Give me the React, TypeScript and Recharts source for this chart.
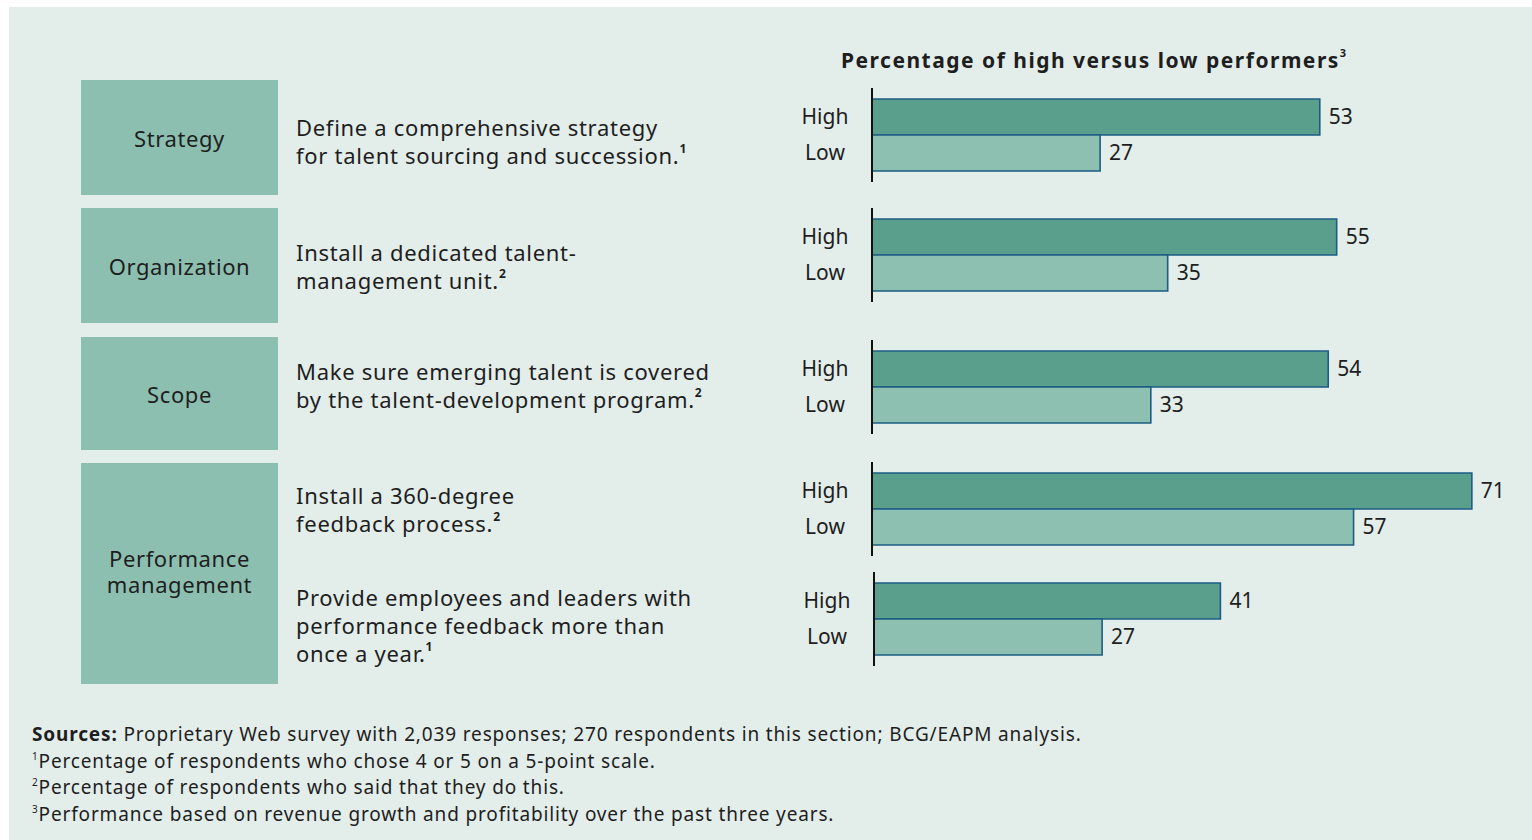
import React from "react";
import { Bar, BarChart, Cell, LabelList, XAxis, YAxis } from "recharts";

const categories = ["Strategy", "Organization", "Scope", "Performance management"];
const practices = [
  ["Define a comprehensive strategy", "for talent sourcing and succession."],
  ["Install a dedicated talent-", "management unit."],
  ["Make sure emerging talent is covered", "by the talent-development program."],
  ["Install a 360-degree", "feedback process."],
  ["Provide employees and leaders with", "performance feedback more than", "once a year."]
];
const practiceNotes = ["1", "2", "2", "2", "1"];
const seriesLabels = ["High", "Low"];
const highValues = [53, 55, 54, 71, 41];
const lowValues = [27, 35, 33, 57, 27];
const footnotes = [
  "Percentage of respondents who chose 4 or 5 on a 5-point scale.",
  "Percentage of respondents who said that they do this.",
  "Performance based on revenue growth and profitability over the past three years."
];

const BG = "#e3edea";
const BOX = "#8dbfb1";
const DARK = "#5a9f8c";
const LIGHT = "#8ec0b2";
const EDGE = "#1d5c84";
const INK = "#1e1e1e";
const FONT = "'Noto Sans', 'Open Sans', sans-serif";

// layout of the blocks (page coordinates)
const boxes = [
  { top: 80, height: 115 },
  { top: 208, height: 115 },
  { top: 337, height: 113 },
  { top: 463, height: 221 }
];
const textTops = [113, 238, 357, 481, 583];
const chartTops = [88, 208, 340, 462, 572];
const chartLefts = [780, 780, 780, 780, 782];

function SideTick(props: any) {
  const { x, y, payload } = props;
  return (
    <text x={x - 27} y={y} dy="0.35em" textAnchor="middle" fontSize={21} fill={INK} fontFamily={FONT}>
      {payload.value}
    </text>
  );
}

function PairChart({ index }: { index: number }) {
  const data = seriesLabels.map((name, i) => ({
    name,
    value: i === 0 ? highValues[index] : lowValues[index]
  }));
  return (
    <div style={{ position: "absolute", left: chartLefts[index], top: chartTops[index] }}>
      <BarChart
        layout="vertical"
        width={751}
        height={94}
        data={data}
        margin={{ top: 0, right: 0, bottom: 0, left: 0 }}
        barCategoryGap={0}
        style={{ overflow: "visible" }}
      >
        <XAxis type="number" domain={[0, 78]} hide />
        <YAxis
          type="category"
          dataKey="name"
          width={92}
          axisLine={{ stroke: "#111", strokeWidth: 2 }}
          tickLine={false}
          tickSize={0}
          tickMargin={20}
          padding={{ top: 11, bottom: 11 }}
          tick={<SideTick />}
        />
        <Bar dataKey="value" isAnimationActive={false} stroke={EDGE} strokeWidth={1.6}>
          {data.map((d, i) => (
            <Cell key={d.name} fill={i === 0 ? DARK : LIGHT} />
          ))}
          <LabelList dataKey="value" position="right" offset={9} style={{ fontSize: 21, fill: INK, fontFamily: FONT }} />
        </Bar>
      </BarChart>
    </div>
  );
}

export default function App() {
  return (
    <div style={{ position: "absolute", left: 0, top: 0, width: 1532, height: 840, background: "#fff", fontFamily: FONT, color: INK }}>
      <div style={{ position: "absolute", left: 9, top: 7, width: 1523, height: 833, background: BG }} />

      {categories.map((c, i) => (
        <div
          key={c}
          style={{
            position: "absolute",
            left: 81,
            top: boxes[i].top,
            width: 197,
            height: boxes[i].height,
            background: BOX,
            display: "flex",
            alignItems: "center",
            justifyContent: "center",
            textAlign: "center",
            fontSize: 22,
            letterSpacing: 0.6,
            lineHeight: "26px",
            padding: i === 3 ? "0 20px 6px" : "0 20px",
            boxSizing: "border-box"
          }}
        >
          {c}
        </div>
      ))}

      {practices.map((lines, i) => (
        <div
          key={i}
          style={{ position: "absolute", left: 296, top: textTops[i], fontSize: 22, letterSpacing: 0.7, lineHeight: "28px", whiteSpace: "nowrap" }}
        >
          {lines.map((l, j) => (
            <div key={j}>
              {l}
              {j === lines.length - 1 && (
                <sup style={{ fontSize: 12, fontWeight: 700, verticalAlign: "top", lineHeight: "16px" }}>{practiceNotes[i]}</sup>
              )}
            </div>
          ))}
        </div>
      ))}

      <div style={{ position: "absolute", left: 841, top: 46, fontSize: 21, letterSpacing: 1.5, fontWeight: 700, whiteSpace: "nowrap" }}>
        Percentage of high versus low performers
        <sup style={{ fontSize: 11, verticalAlign: "top", lineHeight: "14px" }}>3</sup>
      </div>

      {highValues.map((_, i) => (
        <PairChart key={i} index={i} />
      ))}

      <div style={{ position: "absolute", left: 32, top: 721, fontSize: 19, letterSpacing: 0.85, lineHeight: "26.7px", whiteSpace: "nowrap" }}>
        <div>
          <b>Sources:</b> Proprietary Web survey with 2,039 responses; 270 respondents in this section; BCG/EAPM analysis.
        </div>
        {footnotes.map((f, i) => (
          <div key={i}>
            <sup style={{ fontSize: 10, verticalAlign: "top", lineHeight: "16px" }}>{i + 1}</sup>
            {f}
          </div>
        ))}
      </div>
    </div>
  );
}
